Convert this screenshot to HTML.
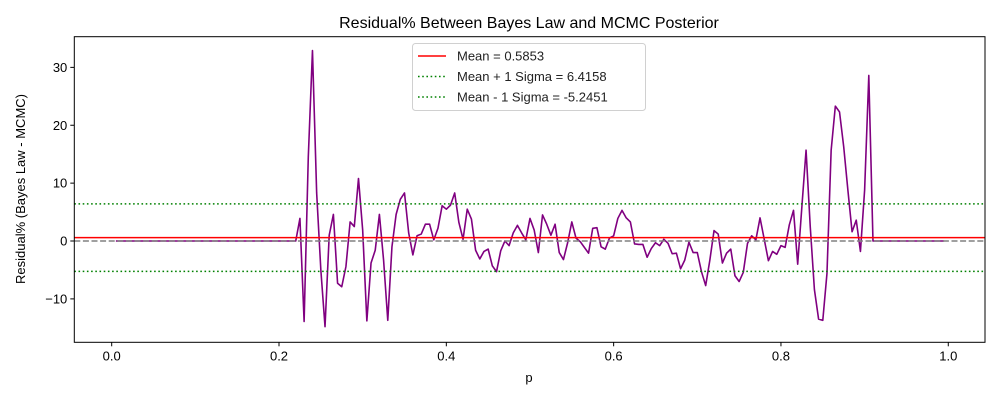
<!DOCTYPE html>
<html><head><meta charset="utf-8"><style>
body{margin:0;background:#fff;}
svg text{font-family:"Liberation Sans","DejaVu Sans",sans-serif;}
</style></head><body>
<svg id="chart" width="1000" height="400" xmlns="http://www.w3.org/2000/svg">
<rect x="0" y="0" width="1000" height="400" fill="#fff"/>
<text x="529" y="28" font-size="16" text-anchor="middle">Residual% Between Bayes Law and MCMC Posterior</text>
<text x="529" y="382" font-size="13" text-anchor="middle">p</text>
<text x="0" y="0" font-size="13" text-anchor="middle" transform="translate(25,189) rotate(-90)">Residual% (Bayes Law - MCMC)</text>
<g id="plot"></g>
</svg>
<script>
const residValues = [3.9,-13.9,14.5,32.9,8.3,-5,-14.8,1,4.6,-7.3,-7.9,-4.4,3.3,2.5,10.8,1.9,-13.8,-3.8,-1.6,4.6,-3.3,-13.7,-1,4.6,7.2,8.3,1.4,-2.4,0.9,1.2,2.9,2.9,0.2,2.2,6.1,5.5,6.2,8.3,3.2,0.3,5.5,3.8,-1.6,-3.1,-1.8,-1.4,-4.3,-5.3,-1.7,0,-0.8,1.4,2.7,1.4,
0.2,3.9,1.9,-2,4.5,2.9,1,2.9,-2,-3.2,-0.3,3.3,0.5,-0.1,-1.1,-2.1,2.2,2.3,-1,-1.4,0.5,0.9,3.9,5.3,4,3.3,-0.5,-0.6,-0.6,-2.8,-1.3,-0.3,-0.8,0.3,-0.4,-2.2,-2.1,-4.8,-3.3,-0.2,-2,-2,-5.3,-7.7,-3.3,1.8,1.2,-3.8,-2.1,-1.4,-6,-7,-5.4,-0.4,
0.9,0.2,4,0.3,-3.4,-1.8,-2.3,-0.8,-1.1,2.8,5.3,-4,5.9,15.7,2.5,-8.4,-13.5,-13.7,-5.6,15.7,23.3,22.3,16.3,8.8,1.6,3.6,-1.8,8.8,28.6];
const leadingZeros = 44;
const trailingZeros = 18;
const pStep = 0.005;
const meanValue = 0.5853;
const plusSigma = 6.4158;
const minusSigma = -5.2451;
const xTicks = [0.0,0.2,0.4,0.6,0.8,1.0];
const xTickLabels = ["0.0","0.2","0.4","0.6","0.8","1.0"];
const yTicks = [-10,0,10,20,30];
const yTickLabels = ["\u221210","0","10","20","30"];
const legendLabels = ["Mean = 0.5853","Mean + 1 Sigma = 6.4158","Mean - 1 Sigma = -5.2451"];

const L=74.3,R=985,T=36.7,B=342.3;
const xMin=-0.0447,xMax=1.0439,yMin=-17.5,yMax=35.3;
const X=v=>L+(v-xMin)/(xMax-xMin)*(R-L);
const Y=v=>B-(v-yMin)/(yMax-yMin)*(B-T);
const NS="http://www.w3.org/2000/svg";
const g=document.getElementById('plot');
function mk(tag,attrs,parent){const e=document.createElementNS(NS,tag);for(const k in attrs)e.setAttribute(k,attrs[k]);(parent||g).appendChild(e);return e;}

const series=[];
for(let i=0;i<leadingZeros;i++)series.push(0);
residValues.forEach(v=>series.push(v));
for(let i=0;i<trailingZeros;i++)series.push(0);

// residual line
let d='';
series.forEach((v,i)=>{const p=pStep*(i+1);d+=(i?'L':'M')+X(p).toFixed(2)+' '+Y(v).toFixed(2);});
const line=mk('path',{d:d,fill:'none',stroke:'#800080','stroke-width':1.6,'stroke-linejoin':'round'});



// zero dashed
const z=mk('line',{x1:L,x2:R,y1:Y(0),y2:Y(0),stroke:'#808080','stroke-width':1.6,'stroke-dasharray':'6,2.6'});


const m=mk('line',{x1:L,x2:R,y1:Y(meanValue),y2:Y(meanValue),stroke:'#ff0000','stroke-width':1.6});


const sp=mk('line',{x1:L,x2:R,y1:Y(plusSigma),y2:Y(plusSigma),stroke:'#008000','stroke-width':1.6,'stroke-dasharray':'1.6,2.6'});


const sm=mk('line',{x1:L,x2:R,y1:Y(minusSigma),y2:Y(minusSigma),stroke:'#008000','stroke-width':1.6,'stroke-dasharray':'1.6,2.6'});



// frame
const fr=mk('rect',{x:L,y:T,width:R-L,height:B-T,fill:'none',stroke:'#000','stroke-width':1});



xTicks.forEach((t,i)=>{
  const tk=mk('line',{x1:X(t),x2:X(t),y1:B,y2:B+4,stroke:'#000','stroke-width':1});
  
  
  const tx=mk('text',{x:X(t),y:B+18,'font-size':13,'text-anchor':'middle'});
  tx.textContent=xTickLabels[i];
  
  
});
yTicks.forEach((t,i)=>{
  const tk=mk('line',{x1:L-4,x2:L,y1:Y(t),y2:Y(t),stroke:'#000','stroke-width':1});
  
  
  const tx=mk('text',{x:L-7,y:Y(t)+4.5,'font-size':13,'text-anchor':'end'});
  tx.textContent=yTickLabels[i];
  
  
});

// legend
const lg=mk('g',{});


mk('rect',{x:412.5,y:43.5,width:233,height:67,rx:3,fill:'#fff','fill-opacity':0.8,stroke:'#d0d0d0','stroke-width':1},lg);
const styles=[{stroke:'#ff0000'},{stroke:'#008000','stroke-dasharray':'1.6,2.6'},{stroke:'#008000','stroke-dasharray':'1.6,2.6'}];
legendLabels.forEach((lab,i)=>{
  const yy=56+i*20.5;
  const a=Object.assign({x1:418,x2:446,y1:yy,y2:yy,'stroke-width':1.6},styles[i]);
  const ln=mk('line',a,lg);
  
  
  const tx=mk('text',{x:457,y:yy+4.5,'font-size':13,fill:'#222'},lg);
  tx.textContent=lab;
  
  
});
</script>
</body></html>
